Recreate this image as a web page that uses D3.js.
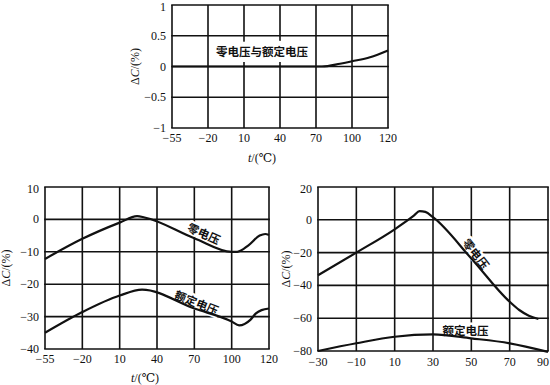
<!DOCTYPE html>
<html><head><meta charset="utf-8">
<script src="https://cdn.jsdelivr.net/npm/d3@7/dist/d3.min.js"></script>
<style>body{margin:0;background:#fff}svg{display:block}</style>
</head><body><svg id="c" width="550" height="385"></svg>
<script>
// ---- data ----
const tempTicksA = [-55, -20, 10, 40, 70, 100, 120];
const tempTicksB = [-30, -10, 10, 30, 50, 70, 90];

const topYTicks = [1, 0.5, 0, -0.5, -1];
const topTemp = [-55, 75, 90, 100, 110, 120];
const topVal  = [0, 0, 0.045, 0.085, 0.15, 0.26];

const blYTicks = [10, 0, -10, -20, -30, -40];
const blZeroTemp = [-55, -20, 10, 24, 30, 70, 100, 103, 109, 115, 118, 120];
const blZeroVal  = [-12.2, -6, -1, 1, 0.6, -5.8, -10, -10, -8, -5, -4.5, -4.8];
const blRatedTemp = [-55, -20, 10, 28, 70, 100, 104, 110, 113, 116, 120];
const blRatedVal  = [-35, -28.6, -23.5, -21.7, -27.5, -31.5, -32.7, -31, -29, -28, -27.5];

const brYTicks = [20, 0, -20, -40, -60, -80];
const brZeroTemp = [-30, -10, 10, 20, 23, 26, 30, 50, 70, 75, 80, 85];
const brZeroVal  = [-33.8, -20, -5.8, 2.5, 5.3, 4.8, 1.6, -23.6, -50, -55, -58.5, -60.5];
const brRatedTemp = [-30, -10, 10, 30, 50, 70, 90];
const brRatedVal  = [-80, -75.3, -71.3, -69.9, -72.3, -75.3, -80.5];

const labelBoth = "零电压与额定电压";
const labelZero = "零电压";
const labelRated = "额定电压";
const yTitle = ["Δ", "C", "/(%)"];
const xTitle = ["t", "/(℃)"];

// ---- drawing ----
const svg = d3.select("#c");
const SERIF = "'Liberation Serif','DejaVu Serif',serif";
const CJK = "'Noto Sans CJK SC','Noto Sans CJK JP',sans-serif";
const fmtMinus = d => String(d).replace("-", "\u2212");

function chart(o) {
  const g = svg.append("g");
  const n = o.xTicks.length - 1;
  const x = d3.scaleLinear().domain(o.xTicks)
    .range(o.xTicks.map((d, i) => o.left + i * (o.right - o.left) / n));
  const y = d3.scaleLinear().domain([o.yTicks[o.yTicks.length - 1], o.yTicks[0]])
    .range([o.bottom, o.top]);

  // grid
  g.append("g").selectAll("line").data(o.xTicks).join("line")
    .attr("x1", d => x(d)).attr("x2", d => x(d))
    .attr("y1", o.top).attr("y2", o.bottom)
    .attr("stroke", "#111").attr("stroke-width", 1.6);
  g.append("g").selectAll("line").data(o.yTicks).join("line")
    .attr("x1", o.left - 0.8).attr("x2", o.right + 0.8)
    .attr("y1", d => y(d)).attr("y2", d => y(d))
    .attr("stroke", "#111").attr("stroke-width", 1.6);

  // tick labels
  const lastX = o.xTicks.length - 1;
  g.append("g").selectAll("text").data(o.xTicks).join("text")
    .attr("x", (d, i) => (i === lastX && o.lastEnd) ? o.lastEnd : x(d))
    .attr("y", o.bottom + o.xLabOff)
    .attr("text-anchor", (d, i) => (i === lastX && o.lastEnd) ? "end" : "middle")
    .attr("font-family", SERIF)
    .attr("font-size", 12).attr("fill", "#111")
    .text(fmtMinus);
  g.append("g").selectAll("text").data(o.yTicks).join("text")
    .attr("x", o.left - 6).attr("y", (d, i) => y(d) + (i === 0 ? 6 : 4))
    .attr("text-anchor", "end").attr("font-family", SERIF)
    .attr("font-size", 12).attr("fill", "#111")
    .text(fmtMinus);

  // axis titles
  const yt = g.append("text")
    .attr("transform", `translate(${o.yTitleX},${(o.top + o.bottom) / 2}) rotate(-90)`)
    .attr("text-anchor", "middle").attr("font-family", SERIF)
    .attr("font-size", 12).attr("fill", "#111");
  yt.append("tspan").text(yTitle[0]);
  yt.append("tspan").attr("font-style", "italic").text(yTitle[1]);
  yt.append("tspan").text(yTitle[2]);
  if (o.xTitleY) {
    const xt = g.append("text")
      .attr("x", o.xTitleX).attr("y", o.xTitleY)
      .attr("text-anchor", "middle").attr("font-family", SERIF)
      .attr("font-size", 12).attr("fill", "#111");
    xt.append("tspan").attr("font-style", "italic").text(xTitle[0]);
    xt.append("tspan").text(xTitle[1]);
  }

  // labels (with white halo covering grid)
  o.labels.forEach(l => {
    const px = x(l.t), py = y(l.v);
    g.append("text")
      .attr("transform", `translate(${px + l.dx},${py + l.dy}) rotate(${l.rot})`)
      .attr("text-anchor", "middle").attr("dominant-baseline", "central")
      .attr("font-family", CJK).attr("font-size", 11.5).attr("font-weight", 700)
      .attr("fill", "#111").attr("stroke", "#fff").attr("stroke-width", l.halo)
      .attr("stroke-linejoin", "round")
      .attr("paint-order", "stroke").text(l.text);
  });

  // series
  const line = d3.line().x(d => x(d[0])).y(d => y(d[1])).curve(d3.curveMonotoneX);
  o.series.forEach(s => {
    g.append("path").datum(d3.zip(s[0], s[1]))
      .attr("d", line).attr("fill", "none")
      .attr("stroke", "#111").attr("stroke-width", 2.2)
      .attr("stroke-linejoin", "round");
  });
}

chart({
  left: 172, right: 388, top: 5, bottom: 128,
  xTicks: tempTicksA, yTicks: topYTicks, xLabOff: 14,
  yTitleX: 139, xTitleX: 262, xTitleY: 162,
  series: [[topTemp, topVal]],
  labels: [{ text: labelBoth, t: 25, v: 0.25, dx: 0, dy: 0, rot: 0, halo: 10 }]
});

chart({
  left: 45, right: 269, top: 187, bottom: 349,
  xTicks: tempTicksA, yTicks: blYTicks, xLabOff: 14,
  yTitleX: 10, xTitleX: 145, xTitleY: 382,
  series: [[blZeroTemp, blZeroVal], [blRatedTemp, blRatedVal]],
  labels: [
    { text: labelZero, t: 77, v: -7, dx: 1, dy: -9, rot: 24, halo: 5 },
    { text: labelRated, t: 72, v: -28, dx: 0, dy: -8, rot: 22, halo: 5 }
  ]
});

chart({
  left: 318, right: 548, top: 187, bottom: 351,
  xTicks: tempTicksB, yTicks: brYTicks, xLabOff: 15, lastEnd: 549,
  yTitleX: 290, xTitleY: null,
  series: [[brZeroTemp, brZeroVal], [brRatedTemp, brRatedVal]],
  labels: [
    { text: labelZero, t: 50, v: -23, dx: 5, dy: -4, rot: 52, halo: 5 },
    { text: labelRated, t: 47, v: -67, dx: 0, dy: 0, rot: 0, halo: 5 }
  ]
});
</script>
</body></html>
